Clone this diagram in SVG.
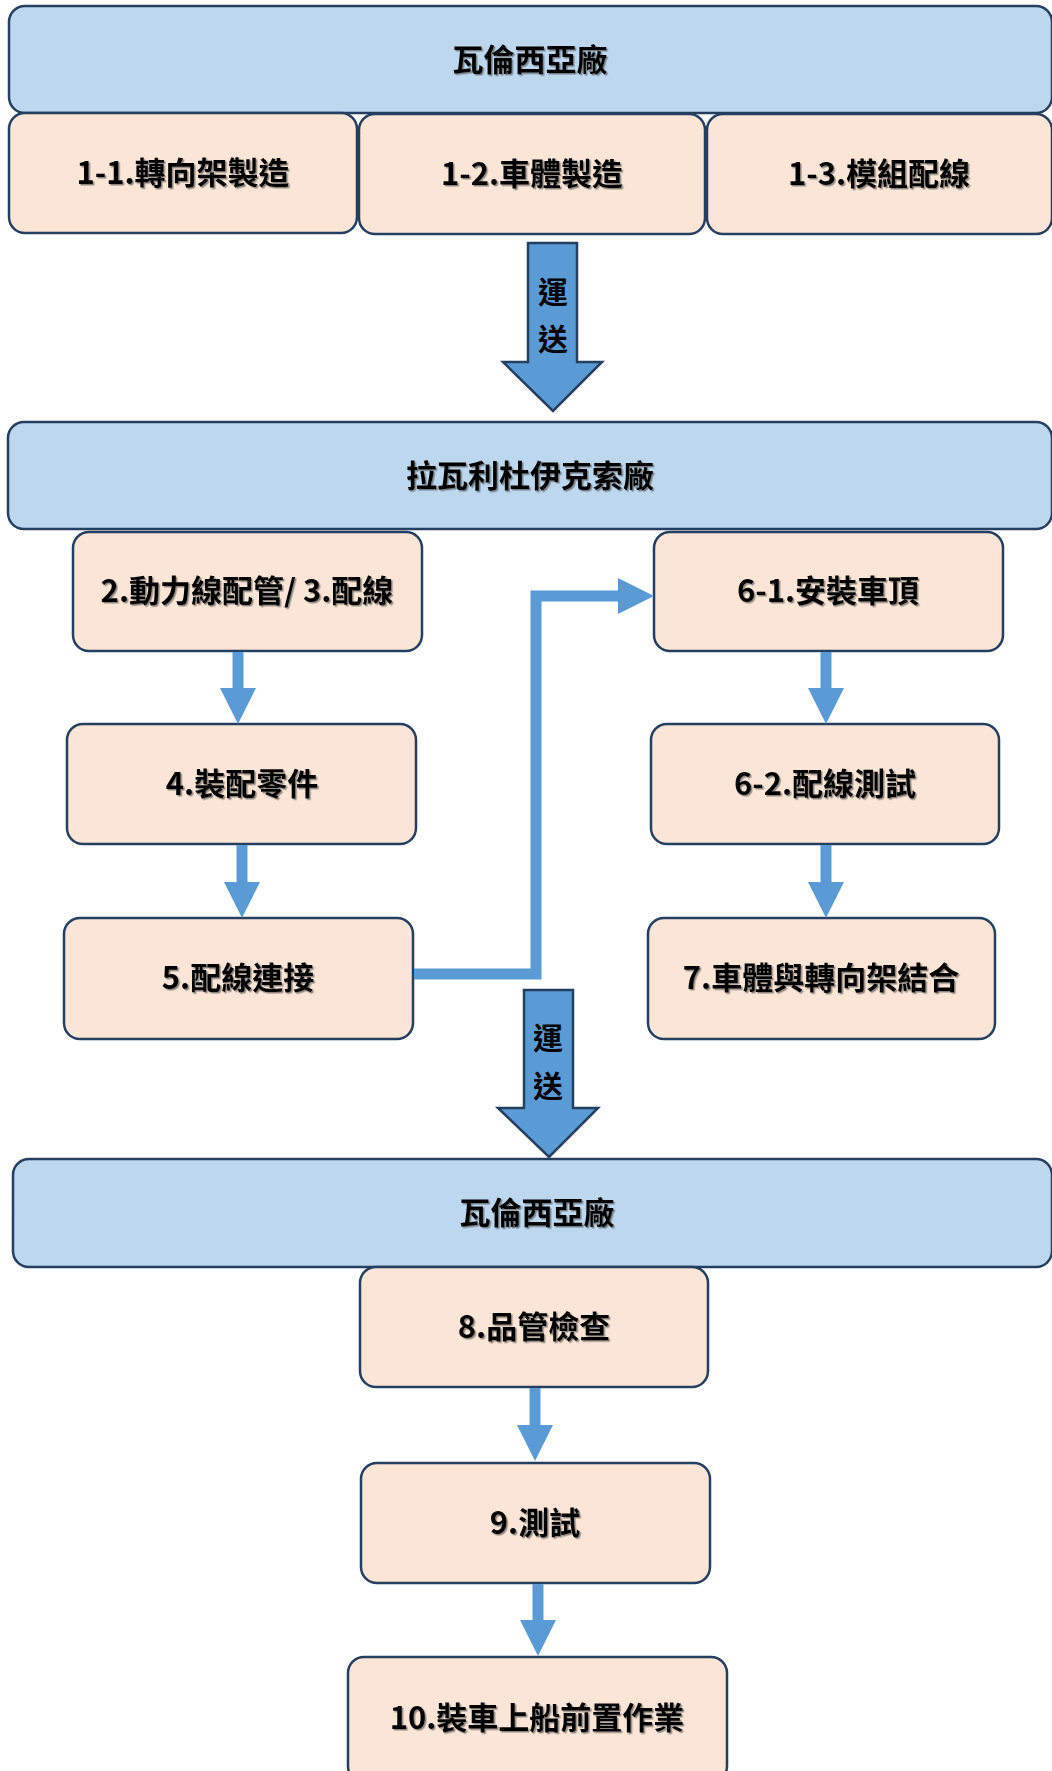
<svg xmlns="http://www.w3.org/2000/svg" width="1052" height="1771" viewBox="0 0 1052 1771">
<style>
.hdr{fill:#BDD7EE;stroke:#243F60;stroke-width:2.5}
.box{fill:#FBE5D6;stroke:#243F60;stroke-width:2.5}
.t{font-family:"Noto Sans CJK TC","Noto Sans CJK SC",sans-serif;font-weight:700;font-size:31px;fill:#000;text-anchor:middle;dominant-baseline:central;filter:url(#sh)}
.ta{font-family:"Noto Sans CJK TC","Noto Sans CJK SC",sans-serif;font-weight:700;font-size:30px;fill:#000;text-anchor:middle;dominant-baseline:central}
.big{fill:#5B9BD5;stroke:#243F60;stroke-width:2.5;stroke-linejoin:miter}
.con{fill:none;stroke:#5B9BD5;stroke-width:11;marker-end:url(#ah)}
</style>
<defs>
<filter id="sh" x="-10%" y="-30%" width="120%" height="160%">
<feDropShadow dx="1.5" dy="1.5" stdDeviation="0.6" flood-color="#444" flood-opacity="0.6"/>
</filter>
<marker id="ah" markerUnits="userSpaceOnUse" viewBox="0 0 36 36" markerWidth="36" markerHeight="36" refX="0" refY="18" orient="auto">
<path d="M0,0 L36,18 L0,36 z" fill="#5B9BD5"/>
</marker>
</defs>

<g id="header1"><rect class="hdr" x="9" y="6" width="1043" height="107" rx="16"/><text class="t" x="530" y="57">瓦倫西亞廠</text></g>
<g id="n1-1"><rect class="box" x="9" y="113" width="348" height="120" rx="16"/><text class="t" x="183" y="170">1-1.轉向架製造</text></g>
<g id="n1-2"><rect class="box" x="359" y="114" width="346" height="120" rx="16"/><text class="t" x="532" y="171">1-2.車體製造</text></g>
<g id="n1-3"><rect class="box" x="707" y="114" width="345" height="120" rx="16"/><text class="t" x="879" y="171">1-3.模組配線</text></g>

<g id="transport1"><polygon class="big" points="528,243 577,243 577,362 602,362 553,411 503,362 528,362"/><text class="ta" x="553" y="290">運</text><text class="ta" x="553" y="337">送</text></g>

<g id="header2"><rect class="hdr" x="8" y="422" width="1044" height="107" rx="16"/><text class="t" x="530" y="473">拉瓦利杜伊克索廠</text></g>
<g id="n2"><rect class="box" x="73" y="532" width="349" height="119" rx="16"/><text class="t" x="247" y="588">2.動力線配管/ 3.配線</text></g>
<g id="n6-1"><rect class="box" x="654" y="532" width="349" height="119" rx="16"/><text class="t" x="828" y="588">6-1.安裝車頂</text></g>
<g id="n4"><rect class="box" x="67" y="724" width="349" height="120" rx="16"/><text class="t" x="242" y="781">4.裝配零件</text></g>
<g id="n6-2"><rect class="box" x="651" y="724" width="348" height="120" rx="16"/><text class="t" x="825" y="781">6-2.配線測試</text></g>
<g id="n5"><rect class="box" x="64" y="918" width="349" height="121" rx="16"/><text class="t" x="238" y="975">5.配線連接</text></g>
<g id="n7"><rect class="box" x="648" y="918" width="347" height="121" rx="16"/><text class="t" x="821" y="975">7.車體與轉向架結合</text></g>

<g id="transport2"><polygon class="big" points="524,990 573,990 573,1108 598,1108 549,1157 498,1108 524,1108"/><text class="ta" x="548" y="1036">運</text><text class="ta" x="548" y="1084">送</text></g>

<g id="header3"><rect class="hdr" x="13" y="1159" width="1039" height="108" rx="16"/><text class="t" x="537" y="1210">瓦倫西亞廠</text></g>
<g id="n8"><rect class="box" x="360" y="1267" width="348" height="120" rx="16"/><text class="t" x="534" y="1324">8.品管檢查</text></g>
<g id="n9"><rect class="box" x="361" y="1463" width="349" height="120" rx="16"/><text class="t" x="535" y="1520">9.測試</text></g>
<g id="n10"><rect class="box" x="348" y="1657" width="379" height="125" rx="16"/><text class="t" x="537" y="1715">10.裝車上船前置作業</text></g>

<g id="connectors">
<path class="con" d="M238,652 V688"/>
<path class="con" d="M242,845 V882"/>
<path class="con" d="M826,652 V688"/>
<path class="con" d="M826,845 V882"/>
<path class="con" d="M414,974 H536 V596 H618"/>
<path class="con" d="M535,1388 V1425"/>
<path class="con" d="M538,1584 V1620"/>
</g>
</svg>
